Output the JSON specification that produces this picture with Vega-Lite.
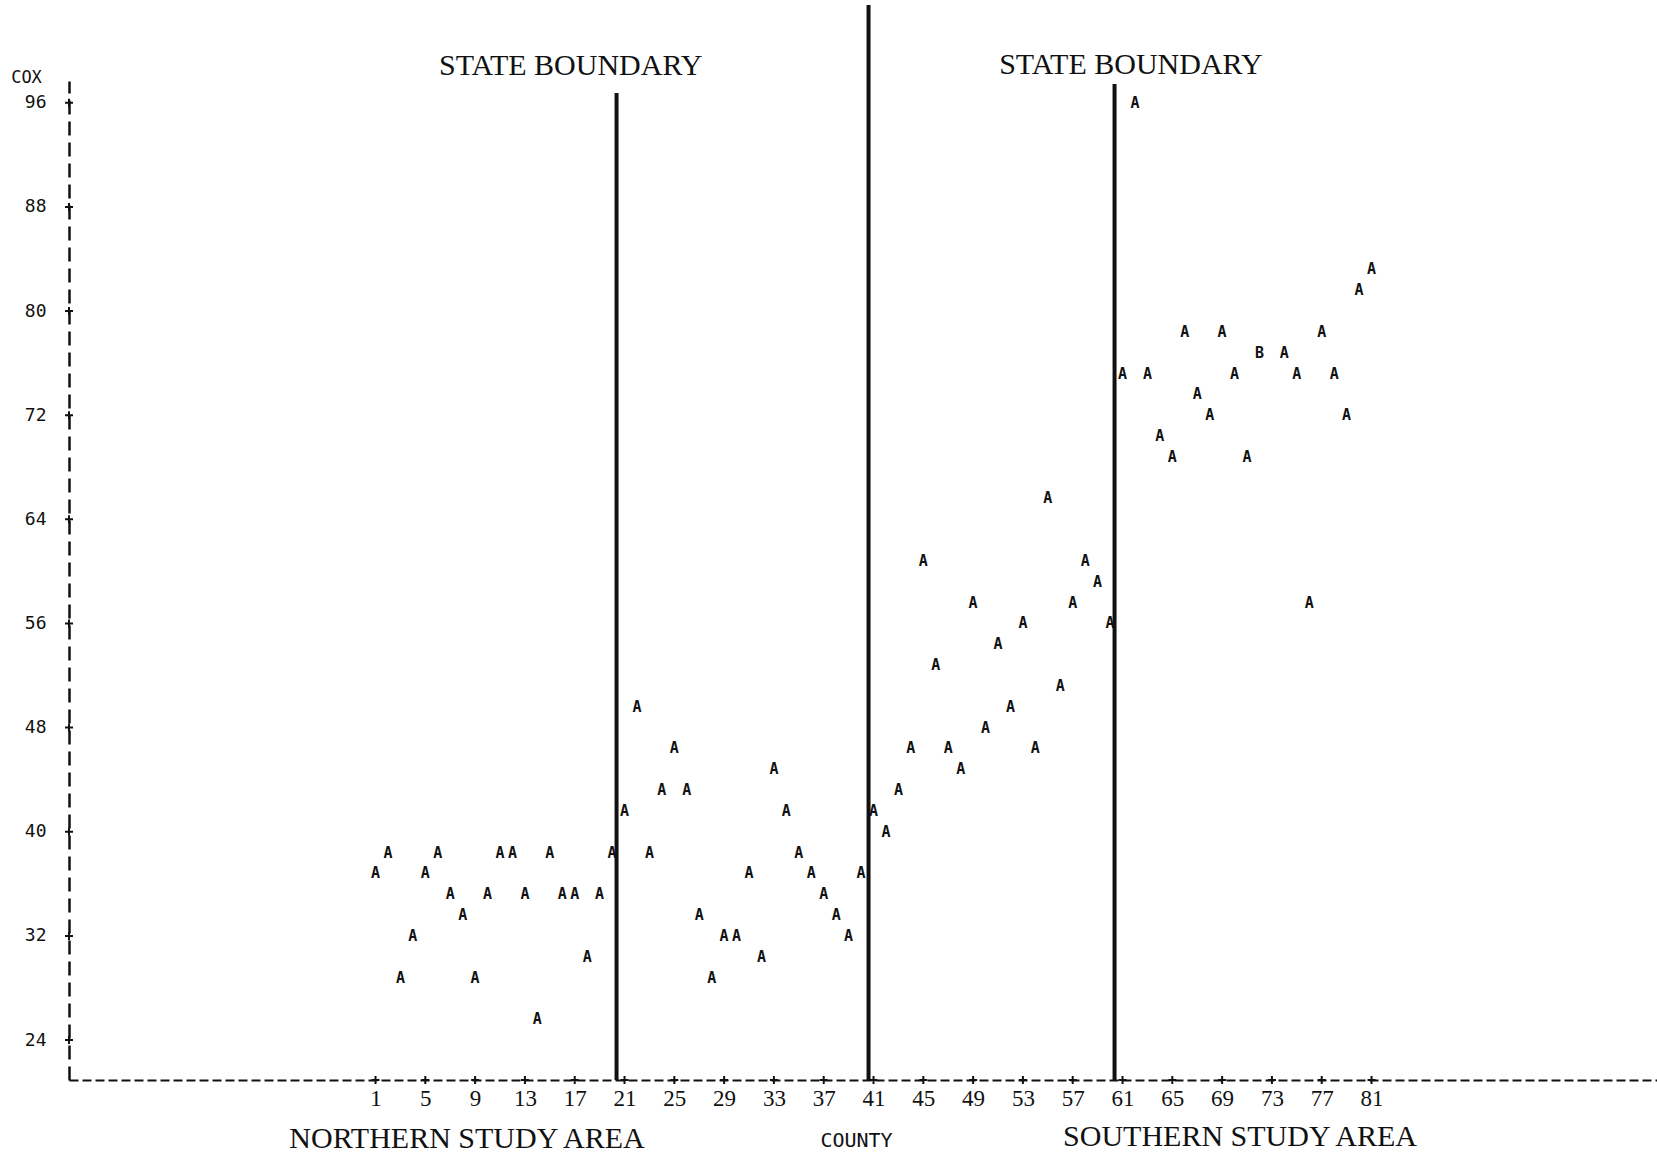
{
  "$schema": "https://vega.github.io/schema/vega-lite/v6.json",
  "width": 1588,
  "height": 999,
  "autosize": {"type": "none"},
  "padding": {"left": 69, "top": 81, "right": 0, "bottom": 74},
  "background": "white",
  "config": {"view": {"stroke": null}},
  "datasets": {
    "cox": [
      {"county": 1, "cox": 36.8, "sym": "A"}, {"county": 2, "cox": 38.4, "sym": "A"},
      {"county": 3, "cox": 28.8, "sym": "A"}, {"county": 4, "cox": 32.0, "sym": "A"},
      {"county": 5, "cox": 36.8, "sym": "A"}, {"county": 6, "cox": 38.4, "sym": "A"},
      {"county": 7, "cox": 35.2, "sym": "A"}, {"county": 8, "cox": 33.6, "sym": "A"},
      {"county": 9, "cox": 28.8, "sym": "A"}, {"county": 10, "cox": 35.2, "sym": "A"},
      {"county": 11, "cox": 38.4, "sym": "A"}, {"county": 12, "cox": 38.4, "sym": "A"},
      {"county": 13, "cox": 35.2, "sym": "A"}, {"county": 14, "cox": 25.6, "sym": "A"},
      {"county": 15, "cox": 38.4, "sym": "A"}, {"county": 16, "cox": 35.2, "sym": "A"},
      {"county": 17, "cox": 35.2, "sym": "A"}, {"county": 18, "cox": 30.4, "sym": "A"},
      {"county": 19, "cox": 35.2, "sym": "A"}, {"county": 20, "cox": 38.4, "sym": "A"},
      {"county": 21, "cox": 41.6, "sym": "A"}, {"county": 22, "cox": 49.6, "sym": "A"},
      {"county": 23, "cox": 38.4, "sym": "A"}, {"county": 24, "cox": 43.2, "sym": "A"},
      {"county": 25, "cox": 46.4, "sym": "A"}, {"county": 26, "cox": 43.2, "sym": "A"},
      {"county": 27, "cox": 33.6, "sym": "A"}, {"county": 28, "cox": 28.8, "sym": "A"},
      {"county": 29, "cox": 32.0, "sym": "A"}, {"county": 30, "cox": 32.0, "sym": "A"},
      {"county": 31, "cox": 36.8, "sym": "A"}, {"county": 32, "cox": 30.4, "sym": "A"},
      {"county": 33, "cox": 44.8, "sym": "A"}, {"county": 34, "cox": 41.6, "sym": "A"},
      {"county": 35, "cox": 38.4, "sym": "A"}, {"county": 36, "cox": 36.8, "sym": "A"},
      {"county": 37, "cox": 35.2, "sym": "A"}, {"county": 38, "cox": 33.6, "sym": "A"},
      {"county": 39, "cox": 32.0, "sym": "A"}, {"county": 40, "cox": 36.8, "sym": "A"},
      {"county": 41, "cox": 41.6, "sym": "A"}, {"county": 42, "cox": 40.0, "sym": "A"},
      {"county": 43, "cox": 43.2, "sym": "A"}, {"county": 44, "cox": 46.4, "sym": "A"},
      {"county": 45, "cox": 60.8, "sym": "A"}, {"county": 46, "cox": 52.8, "sym": "A"},
      {"county": 47, "cox": 46.4, "sym": "A"}, {"county": 48, "cox": 44.8, "sym": "A"},
      {"county": 49, "cox": 57.6, "sym": "A"}, {"county": 50, "cox": 48.0, "sym": "A"},
      {"county": 51, "cox": 54.4, "sym": "A"}, {"county": 52, "cox": 49.6, "sym": "A"},
      {"county": 53, "cox": 56.0, "sym": "A"}, {"county": 54, "cox": 46.4, "sym": "A"},
      {"county": 55, "cox": 65.6, "sym": "A"}, {"county": 56, "cox": 51.2, "sym": "A"},
      {"county": 57, "cox": 57.6, "sym": "A"}, {"county": 58, "cox": 60.8, "sym": "A"},
      {"county": 59, "cox": 59.2, "sym": "A"}, {"county": 60, "cox": 56.0, "sym": "A"},
      {"county": 61, "cox": 75.2, "sym": "A"}, {"county": 62, "cox": 96.0, "sym": "A"},
      {"county": 63, "cox": 75.2, "sym": "A"}, {"county": 64, "cox": 70.4, "sym": "A"},
      {"county": 65, "cox": 68.8, "sym": "A"}, {"county": 66, "cox": 78.4, "sym": "A"},
      {"county": 67, "cox": 73.6, "sym": "A"}, {"county": 68, "cox": 72.0, "sym": "A"},
      {"county": 69, "cox": 78.4, "sym": "A"}, {"county": 70, "cox": 75.2, "sym": "A"},
      {"county": 71, "cox": 68.8, "sym": "A"}, {"county": 72, "cox": 76.8, "sym": "B"},
      {"county": 74, "cox": 76.8, "sym": "A"}, {"county": 75, "cox": 75.2, "sym": "A"},
      {"county": 76, "cox": 57.6, "sym": "A"}, {"county": 77, "cox": 78.4, "sym": "A"},
      {"county": 78, "cox": 75.2, "sym": "A"}, {"county": 79, "cox": 72.0, "sym": "A"},
      {"county": 80, "cox": 81.6, "sym": "A"}, {"county": 81, "cox": 83.2, "sym": "A"}
    ],
    "boundaries": [
      {"county": 20.36, "cox": 96.75, "cox2": 20.93},
      {"county": 40.6, "cox": 103.5, "cox2": 20.93},
      {"county": 60.36, "cox": 97.44, "cox2": 20.93}
    ],
    "notes": [
      {"county": 16.68, "cox": 98.86, "label": "STATE BOUNDARY"},
      {"county": 61.67, "cox": 98.93, "label": "STATE BOUNDARY"},
      {"county": 8.35, "cox": 16.4, "label": "NORTHERN STUDY AREA"},
      {"county": 70.44, "cox": 16.55, "label": "SOUTHERN STUDY AREA"}
    ],
    "xticks": [
      {"county": 1, "cox": 20.93}, {"county": 5, "cox": 20.93}, {"county": 9, "cox": 20.93},
      {"county": 13, "cox": 20.93}, {"county": 17, "cox": 20.93}, {"county": 21, "cox": 20.93},
      {"county": 25, "cox": 20.93}, {"county": 29, "cox": 20.93}, {"county": 33, "cox": 20.93},
      {"county": 37, "cox": 20.93}, {"county": 41, "cox": 20.93}, {"county": 45, "cox": 20.93},
      {"county": 49, "cox": 20.93}, {"county": 53, "cox": 20.93}, {"county": 57, "cox": 20.93},
      {"county": 61, "cox": 20.93}, {"county": 65, "cox": 20.93}, {"county": 69, "cox": 20.93},
      {"county": 73, "cox": 20.93}, {"county": 77, "cox": 20.93}, {"county": 81, "cox": 20.93}
    ],
    "yticks": [
      {"county": -23.62, "cox": 24}, {"county": -23.62, "cox": 32}, {"county": -23.62, "cox": 40},
      {"county": -23.62, "cox": 48}, {"county": -23.62, "cox": 56}, {"county": -23.62, "cox": 64},
      {"county": -23.62, "cox": 72}, {"county": -23.62, "cox": 80}, {"county": -23.62, "cox": 88},
      {"county": -23.62, "cox": 96}
    ]
  },
  "encoding": {
    "x": {
      "field": "county",
      "type": "quantitative",
      "scale": {"domain": [-23.62, 103.93], "nice": false, "zero": false},
      "axis": {
        "values": [1, 5, 9, 13, 17, 21, 25, 29, 33, 37, 41, 45, 49, 53, 57, 61, 65, 69, 73, 77, 81],
        "title": "COUNTY",
        "titleFont": "DejaVu Sans Mono",
        "titleFontSize": 20,
        "titleFontWeight": "normal",
        "titleColor": "#111",
        "titleX": 787,
        "titleY": 60,
        "titleAlign": "center",
        "titleBaseline": "middle",
        "labelFont": "Liberation Serif",
        "labelFontSize": 23,
        "labelColor": "#111",
        "labelBaseline": "middle",
        "labelPadding": 18,
        "labelFlush": false,
        "labelOverlap": false,
        "labelBound": false,
        "ticks": false,
        "tickSize": 0,
        "grid": false,
        "domainColor": "#111",
        "domainWidth": 2,
        "domainDash": [9, 4]
      }
    },
    "y": {
      "field": "cox",
      "type": "quantitative",
      "scale": {"domain": [20.93, 97.67], "nice": false, "zero": false},
      "axis": {
        "values": [24, 32, 40, 48, 56, 64, 72, 80, 88, 96],
        "title": "COX",
        "titleAngle": 0,
        "titleFont": "DejaVu Sans Mono",
        "titleFontSize": 17,
        "titleFontWeight": "normal",
        "titleColor": "#111",
        "titleX": -43,
        "titleY": -4,
        "titleAlign": "center",
        "titleBaseline": "middle",
        "labelFont": "DejaVu Sans Mono",
        "labelFontSize": 18,
        "labelColor": "#111",
        "labelPadding": 23,
        "labelFlush": false,
        "labelOverlap": false,
        "labelBound": false,
        "ticks": false,
        "tickSize": 0,
        "grid": false,
        "domainColor": "#111",
        "domainWidth": 2.5,
        "domainDash": [14, 7]
      }
    }
  },
  "layer": [
    {
      "data": {"name": "boundaries"},
      "mark": {"type": "rule", "color": "#111", "strokeWidth": 4, "clip": false},
      "encoding": {"y2": {"field": "cox2"}}
    },
    {
      "data": {"name": "cox"},
      "mark": {
        "type": "text",
        "font": "DejaVu Sans Mono",
        "fontSize": 15,
        "fontWeight": "bold",
        "color": "#111",
        "align": "center",
        "baseline": "middle",
        "clip": false
      },
      "encoding": {"text": {"field": "sym"}}
    },
    {
      "data": {"name": "notes"},
      "mark": {
        "type": "text",
        "font": "Liberation Serif",
        "fontSize": 30,
        "color": "#111",
        "align": "center",
        "baseline": "middle",
        "clip": false
      },
      "encoding": {"text": {"field": "label"}}
    },
    {
      "data": {"name": "xticks"},
      "mark": {
        "type": "point",
        "shape": "M-1,0L1,0M0,-1L0,1",
        "size": 64,
        "filled": false,
        "stroke": "#111",
        "strokeWidth": 2,
        "opacity": 1,
        "clip": false
      }
    },
    {
      "data": {"name": "yticks"},
      "mark": {
        "type": "point",
        "shape": "M-1,0L1,0M0,-1L0,1",
        "size": 64,
        "filled": false,
        "stroke": "#111",
        "strokeWidth": 2,
        "opacity": 1,
        "clip": false
      }
    }
  ]
}
